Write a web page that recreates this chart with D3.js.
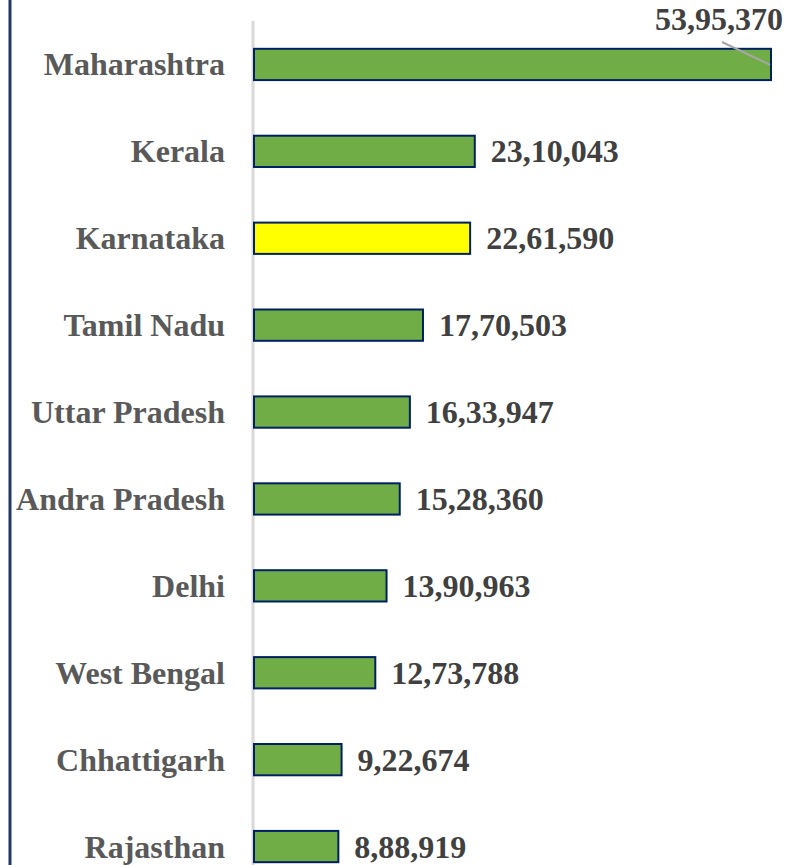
<!DOCTYPE html>
<html>
<head>
<meta charset="utf-8">
<script src="https://cdn.jsdelivr.net/npm/d3@7"></script>
<style>
  body { margin: 0; background: #fff; }
  text { font-family: "Liberation Serif", "Times New Roman", serif; font-weight: bold; }
</style>
</head>
<body>
<svg width="788" height="865"></svg>
<script>
const states = ["Maharashtra", "Kerala", "Karnataka", "Tamil Nadu", "Uttar Pradesh",
  "Andra Pradesh", "Delhi", "West Bengal", "Chhattigarh", "Rajasthan"];
const cases = [5395370, 2310043, 2261590, 1770503, 1633947,
  1528360, 1390963, 1273788, 922674, 888919];
const labels = ["53,95,370", "23,10,043", "22,61,590", "17,70,503", "16,33,947",
  "15,28,360", "13,90,963", "12,73,788", "9,22,674", "8,88,919"];
const highlight = "Karnataka";

const data = states.map((s, i) => ({ name: s, value: cases[i], label: labels[i] }));

const svg = d3.select("svg");

// left frame edge
svg.append("line")
  .attr("x1", 10).attr("x2", 10).attr("y1", 0).attr("y2", 865)
  .attr("stroke", "#1F3864").attr("stroke-width", 3);

const x = d3.scaleLinear().domain([0, 5395370]).range([253, 771]);
const y = d3.scaleBand().domain(states).range([21, 890]).paddingInner(0.64).paddingOuter(0.32);

// axis line
svg.append("line")
  .attr("x1", 253).attr("x2", 253).attr("y1", 21).attr("y2", 865)
  .attr("stroke", "#D9D9D9").attr("stroke-width", 3);

svg.selectAll(".bar").data(data).enter()
  .append("rect")
  .attr("class", "bar")
  .attr("x", x(0) + 1)
  .attr("y", d => y(d.name))
  .attr("width", d => x(d.value) - x(0) - 1)
  .attr("height", y.bandwidth())
  .attr("fill", d => d.name == highlight ? "#FFFF00" : "#70AD47")
  .attr("stroke", "#002060")
  .attr("stroke-width", 2);

// category labels
svg.selectAll(".cat").data(data).enter()
  .append("text")
  .attr("class", "cat")
  .attr("x", 225)
  .attr("y", d => y(d.name) + y.bandwidth() / 2 + 11)
  .attr("text-anchor", "end")
  .attr("font-size", 32)
  .attr("fill", "#595959")
  .text(d => d.name);

// value labels (first one sits above with a leader line)
svg.selectAll(".val").data(data).enter()
  .append("text")
  .attr("class", "val")
  .attr("x", (d, i) => i == 0 ? 783 : x(d.value) + 16)
  .attr("y", (d, i) => i == 0 ? 30 : y(d.name) + y.bandwidth() / 2 + 11)
  .attr("text-anchor", (d, i) => i == 0 ? "end" : "start")
  .attr("font-size", 32)
  .attr("fill", "#404040")
  .text(d => d.label);

svg.append("line")
  .attr("x1", 722).attr("y1", 42)
  .attr("x2", x(cases[0]) - 1).attr("y2", y(states[0]) + 16)
  .attr("stroke", "#A6A6A6").attr("stroke-width", 2);
</script>
</body>
</html>
